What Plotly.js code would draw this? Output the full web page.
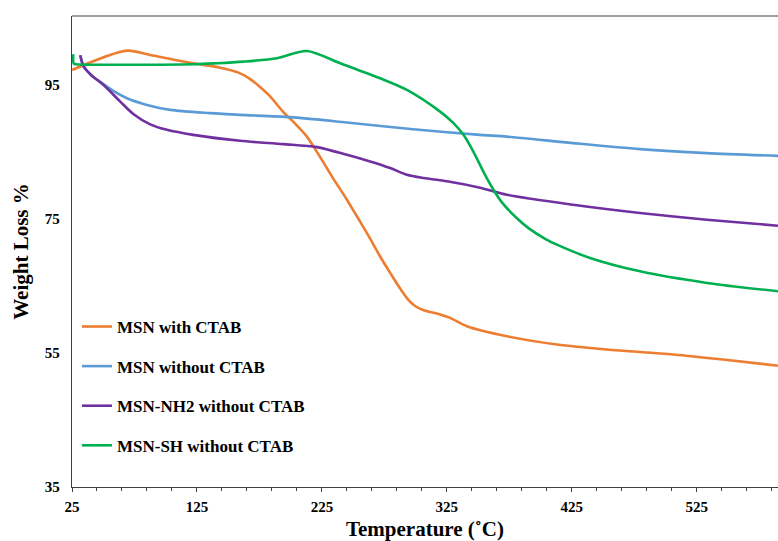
<!DOCTYPE html>
<html>
<head>
<meta charset="utf-8">
<script src="https://cdn.plot.ly/plotly-3.0.1.min.js"></script>
<style>html,body{margin:0;padding:0;background:#fff;}#chart{width:778px;height:541px;}</style>
</head>
<body>
<div id="chart"></div>
<script>
// Temperature (°C) and weight (%)
var seriesNames = ["MSN with CTAB", "MSN without CTAB", "MSN-NH2 without CTAB", "MSN-SH without CTAB"];

var orangeX = [25.2, 69, 87.6, 122, 143.6, 157.2, 166.8, 174.8, 182.8, 194, 203.6, 213, 223.6, 234, 245, 255.6, 263.6, 271.6, 279.6, 287.6, 294, 299.6, 306, 319.6, 327.6, 341, 373, 413, 453, 506, 546, 590];
var orangeY = [97.25, 100.13, 99.49, 98.25, 97.59, 96.92, 96.0, 94.81, 93.44, 91.0, 89.23, 87.3, 84.24, 81.07, 77.88, 74.6, 72.07, 69.4, 66.96, 64.62, 62.98, 62.01, 61.42, 60.74, 60.25, 59.0, 57.5, 56.27, 55.52, 54.78, 54.03, 53.1];

var blueX = [31.6, 34.3, 40.4, 47.6, 58, 69, 85, 103.6, 135.6, 159.6, 199.6, 245, 298, 351.6, 373, 426, 479.6, 533, 590];
var blueY = [99.45, 97.85, 96.43, 95.46, 94.12, 93.03, 92.03, 91.29, 90.8, 90.54, 90.2, 89.4, 88.4, 87.56, 87.3, 86.33, 85.43, 84.84, 84.43];

var purpleX = [31.6, 34.3, 41.2, 50.3, 63.6, 74.3, 87.6, 101, 122, 159.6, 194, 221, 245, 263.6, 279.6, 293, 306.3, 325, 351.6, 373, 426, 479.6, 533, 590];
var purpleY = [99.45, 97.75, 96.35, 95.0, 92.53, 90.64, 89.13, 88.31, 87.56, 86.67, 86.18, 85.73, 84.58, 83.58, 82.6, 81.6, 81.11, 80.63, 79.67, 78.62, 77.13, 75.9, 74.9, 74.0];

var greenX = [26, 26.4, 28.4, 122, 141, 162.3, 189, 213, 239.6, 271.6, 293, 319.6, 330.3, 338.3, 346.3, 354.3, 362.3, 368.6, 380, 390.6, 404, 413, 439.6, 479.6, 533, 590];
var greenY = [99.6, 98.2, 98.1, 98.1, 98.25, 98.49, 99.0, 100.08, 98.25, 96.0, 94.27, 91.03, 89.31, 87.56, 85.03, 82.05, 79.37, 77.6, 75.3, 73.6, 72.0, 71.17, 69.19, 67.19, 65.46, 64.21];

var xTickVals = [25, 125, 225, 325, 425, 525];
var yTickVals = [35, 55, 75, 95];

var colors = ["#ED7D31", "#5B9BD5", "#7030A0", "#00B050"];
var xs = [orangeX, blueX, purpleX, greenX];
var ys = [orangeY, blueY, purpleY, greenY];

var font = "'Liberation Serif', 'Times New Roman', serif";

var traces = seriesNames.map(function (n, i) {
  return {
    x: xs[i], y: ys[i], name: n, type: "scatter", mode: "lines",
    line: {color: colors[i], width: 2.6, shape: "spline", smoothing: 0.8},
    legendgroup: "g" + i, hoverinfo: "skip"
  };
});

var layout = {
  width: 778, height: 541,
  margin: {l: 72, r: 0, t: 16, b: 54},
  paper_bgcolor: "#ffffff", plot_bgcolor: "#ffffff",
  font: {family: font, color: "#000"},
  showlegend: true,
  legend: {
    x: 0.007, y: 0.378, xanchor: "left", yanchor: "top",
    bgcolor: "rgba(0,0,0,0)", borderwidth: 0,
    font: {family: font, size: 17, color: "#000", weight: "bold"},
    traceorder: "grouped", tracegroupgap: 14.5, itemwidth: 30
  },
  xaxis: {
    range: [25, 590], tickvals: xTickVals, ticktext: xTickVals.map(String),
    ticks: "outside", ticklen: 4, tickwidth: 1, tickcolor: "#404040",
    minor: {dtick: 20, tick0: 25, ticks: "outside", ticklen: 3, tickwidth: 1, tickcolor: "#404040"},
    showline: true, linecolor: "#404040", linewidth: 1.3,
    showgrid: false, zeroline: false, ticklabelstandoff: 2,
    tickfont: {family: font, size: 15, color: "#000", weight: "bold"},
    title: {text: "Temperature (˚C)", font: {family: font, size: 21, color: "#000", weight: "bold"}, standoff: 9}
  },
  xaxis2: {
    overlaying: "x", matches: "x", range: [25, 590], tickvals: xTickVals,
    ticks: "inside", ticklen: 5, tickwidth: 1, tickcolor: "#404040",
    showticklabels: false, showgrid: false, zeroline: false, showline: false, side: "bottom"
  },
  yaxis: {
    range: [35, 105.3], tickvals: yTickVals, ticktext: yTickVals.map(String),
    ticks: "", showline: true, linecolor: "#404040", linewidth: 1.3,
    showgrid: false, zeroline: false, ticklabelstandoff: 8,
    tickfont: {family: font, size: 15, color: "#000", weight: "bold"},
    title: {text: "Weight Loss %", font: {family: font, size: 21, color: "#000", weight: "bold"}, standoff: 10}
  },
  shapes: [{type: "line", xref: "paper", yref: "paper", x0: 0, x1: 1, y0: 1, y1: 1,
    line: {color: "#A0A0A0", width: 2}}]
};

Plotly.newPlot("chart", traces, layout, {displayModeBar: false, staticPlot: true});
</script>
</body>
</html>
